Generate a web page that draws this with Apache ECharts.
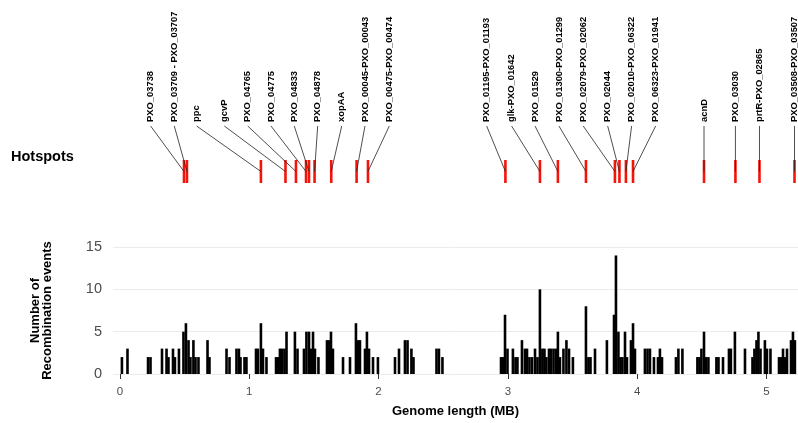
<!DOCTYPE html>
<html>
<head>
<meta charset="utf-8">
<script src="https://cdn.jsdelivr.net/npm/echarts@6/dist/echarts.min.js"></script>
<style>
  html, body { margin: 0; padding: 0; background: #fff; }
  #chart { width: 798px; height: 423px; }
</style>
</head>
<body>
<div id="chart"></div>
<script>
// ---- Data -------------------------------------------------------------
// Recombination events: genome position (MB) and number of events
const eventPos = [
  0.015, 0.058, 0.217, 0.236, 0.325, 0.360, 0.375, 0.410, 0.425, 0.456, 0.491, 0.510, 0.530, 0.545,
  0.568, 0.584, 0.607, 0.677, 0.692, 0.824, 0.847, 0.901, 0.920, 0.932, 0.963, 0.978,
  1.052, 1.067, 1.090, 1.106, 1.133, 1.207, 1.222, 1.237, 1.253, 1.272, 1.288, 1.353, 1.373, 1.423,
  1.442, 1.462, 1.477, 1.493, 1.508, 1.535, 1.601, 1.616, 1.632, 1.647, 1.725, 1.779, 1.825, 1.841,
  1.856, 1.895, 1.910, 1.926, 1.957, 1.995,
  2.127, 2.158, 2.204, 2.224, 2.254, 2.270, 2.448, 2.467, 2.494,
  2.947, 2.962, 2.978, 2.997, 3.039, 3.059, 3.074, 3.109, 3.132, 3.148, 3.167, 3.187, 3.210, 3.229,
  3.248, 3.267, 3.283, 3.298, 3.318, 3.333, 3.353, 3.372, 3.387, 3.403, 3.430, 3.453, 3.473, 3.503,
  3.604, 3.623, 3.639, 3.674, 3.766, 3.821, 3.836, 3.855, 3.871, 3.886, 3.906, 3.921, 3.952, 3.968, 3.983,
  4.060, 4.080, 4.099, 4.130, 4.161, 4.176, 4.192, 4.300, 4.319, 4.350, 4.466, 4.482, 4.497, 4.517,
  4.532, 4.551, 4.613, 4.629, 4.664, 4.710, 4.725, 4.756, 4.834, 4.892, 4.907, 4.923, 4.938, 4.954,
  4.988, 5.004, 5.031, 5.097, 5.112, 5.128, 5.143, 5.159, 5.190, 5.205, 5.220
];
const eventCount = [
  2, 3, 2, 2, 3, 3, 2, 3, 2, 3, 5, 6, 4, 2,
  4, 2, 2, 4, 2, 3, 2, 3, 3, 2, 2, 2,
  3, 3, 6, 3, 2, 2, 2, 3, 3, 3, 5, 5, 3, 3,
  5, 5, 3, 5, 3, 2, 4, 4, 5, 3, 2, 2, 6, 4,
  4, 3, 5, 3, 2, 2,
  2, 3, 4, 4, 3, 2, 3, 3, 2,
  2, 2, 7, 3, 3, 2, 2, 4, 3, 3, 2, 2, 3, 2,
  10, 3, 3, 2, 3, 3, 3, 3, 5, 2, 3, 4, 3, 2,
  8, 2, 2, 3, 4, 7, 14, 5, 2, 2, 5, 2, 4, 6, 3,
  3, 3, 3, 2, 2, 3, 2, 2, 3, 3, 2, 2, 3, 5,
  2, 2, 2, 2, 2, 3, 3, 5, 3, 2, 3, 4, 5, 3,
  4, 3, 3, 2, 2, 3, 2, 3, 4, 5, 4
];

// Recombination hotspots: gene / region name and genome position (MB)
const hotspotNames = [
  'PXO_03738', 'PXO_03709 - PXO_03707', 'ppc', 'gcvP', 'PXO_04765', 'PXO_04775', 'PXO_04833',
  'PXO_04878', 'xopAA', 'PXO_00045-PXO_00043', 'PXO_00475-PXO_00474',
  'PXO_01195-PXO_01193', 'glk-PXO_01642', 'PXO_01529', 'PXO_01300-PXO_01299', 'PXO_02079-PXO_02062',
  'PXO_02044', 'PXO_02010-PXO_06322', 'PXO_06323-PXO_01941', 'acnD', 'PXO_03030', 'prtR-PXO_02865',
  'PXO_03508-PXO_03507'
];
const hotspotPos = [
  0.495, 0.518, 1.090, 1.280, 1.361, 1.439, 1.462, 1.505, 1.634, 1.830, 1.918,
  2.981, 3.248, 3.387, 3.604, 3.828, 3.863, 3.913, 3.968, 4.517, 4.760, 4.946, 5.217
];

const xTicks = [0, 1, 2, 3, 4, 5];
const yTicks = [0, 5, 10, 15];

// ---- Layout -----------------------------------------------------------
// Where each hotspot label sits along the genome axis (spread apart so the
// names do not collide); null keeps the label straight above its mark.
const labelAnchorMb = [
  0.237, 0.420, 0.593, 0.807, 0.988, 1.168, 1.348, 1.529, 1.715, 1.895, 2.083,
  2.836, 3.029, 3.210, 3.395, 3.583, 3.772, 3.957, 4.143, null, null, null, null
];

const FONT = '"Liberation Sans", Arial, Helvetica, sans-serif';
const X_MIN = -0.054, X_MAX = 5.244;

const chart = echarts.init(document.getElementById('chart'), null, { renderer: 'canvas' });

const option = {
  animation: false,
  backgroundColor: '#fff',
  textStyle: { fontFamily: FONT },
  title: {
    text: 'Hotspots',
    left: 11, top: 149, padding: 0,
    textStyle: { fontFamily: FONT, fontSize: 14.5, fontWeight: 'bold', color: '#000' }
  },
  grid: [
    { left: 113, right: 0, top: 247, bottom: 49, outerBoundsMode: 'none' },
    { left: 113, right: 0, top: 160, height: 23, outerBoundsMode: 'none' }
  ],
  xAxis: [
    {
      gridIndex: 0, type: 'value', min: X_MIN, max: X_MAX,
      axisLine: { show: false },
      splitLine: { show: false },
      axisTick: { show: true, customValues: xTicks, length: 5, lineStyle: { color: '#333', width: 1 } },
      axisLabel: { customValues: xTicks, fontSize: 11.5, color: '#4d4d4d', margin: 12, fontFamily: FONT },
      name: 'Genome length (MB)', nameLocation: 'middle', nameGap: 31,
      nameTextStyle: { fontFamily: FONT, fontWeight: 'bold', fontSize: 13, color: '#000' }
    },
    { gridIndex: 1, type: 'value', min: X_MIN, max: X_MAX, show: false }
  ],
  yAxis: [
    {
      gridIndex: 0, type: 'value', min: yTicks[0], max: yTicks[yTicks.length - 1], interval: 5,
      axisLine: { show: false }, axisTick: { show: false },
      splitLine: { show: true, lineStyle: { color: '#ebebeb', width: 1 } },
      axisLabel: { fontSize: 14.5, color: '#4d4d4d', margin: 11, fontFamily: FONT },
      name: 'Number of\nRecombination events', nameLocation: 'middle', nameRotate: 90, nameGap: 59,
      nameTextStyle: { fontFamily: FONT, fontWeight: 'bold', fontSize: 13, lineHeight: 12.5, color: '#000', align: 'center' }
    },
    { gridIndex: 1, type: 'value', min: 0, max: 1, show: false }
  ],
  series: [
    {
      type: 'bar',
      xAxisIndex: 0, yAxisIndex: 0,
      data: eventPos.map((p, i) => [p, eventCount[i]]),
      barWidth: 2.6,
      itemStyle: { color: '#000' },
      silent: true
    },
    {
      type: 'custom',
      xAxisIndex: 1, yAxisIndex: 1,
      silent: true,
      clip: false,
      data: hotspotPos.map((p, i) => [p, labelAnchorMb[i] == null ? p : labelAnchorMb[i], i]),
      renderItem: function (params, api) {
        const top = api.coord([api.value(0), 1]);
        const bottom = api.coord([api.value(0), 0]);
        const mx = top[0];
        const lx = api.coord([api.value(1), 0])[0];
        const name = hotspotNames[api.value(2)];
        const midY = (top[1] + bottom[1]) / 2;
        return {
          type: 'group',
          children: [
            {
              type: 'rect',
              shape: { x: mx - 1.3, y: top[1], width: 2.6, height: bottom[1] - top[1] },
              style: { fill: '#f5140a' }
            },
            {
              type: 'line',
              shape: { x1: lx, y1: top[1] - 34, x2: mx, y2: midY },
              style: { stroke: '#222', lineWidth: 0.8 }
            },
            {
              type: 'text',
              x: lx, y: top[1] - 38,
              rotation: Math.PI / 2,
              style: {
                text: name,
                font: 'bold 9.4px ' + FONT,
                fill: '#000',
                align: 'left',
                verticalAlign: 'middle'
              }
            }
          ]
        };
      }
    }
  ]
};

chart.setOption(option);
</script>
</body>
</html>
